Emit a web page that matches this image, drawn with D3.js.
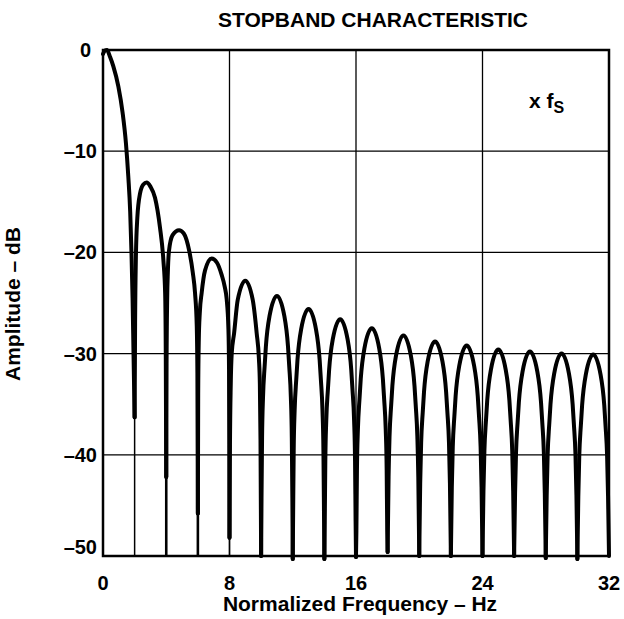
<!DOCTYPE html>
<html><head><meta charset="utf-8">
<script src="https://cdn.jsdelivr.net/npm/d3@7"></script>
<style>
html,body{margin:0;padding:0;background:#fff;}
svg{display:block;font-family:"Liberation Sans",Arial,Helvetica,sans-serif;font-weight:bold;}
</style></head>
<body>
<script>
// ---- data ----
const titleText = "STOPBAND CHARACTERISTIC";
const xTitle = "Normalized Frequency – Hz";
const yTitle = "Amplitude – dB";
const xTicks = [0, 8, 16, 24, 32];
const xTickLabels = ["0", "8", "16", "24", "32"];
const yTicks = [0, -10, -20, -30, -40, -50];
const yTickLabels = ["0", "–10", "–20", "–30", "–40", "–50"];
const xGrid = [8, 16, 24];
const yGrid = [-10, -20, -30, -40];

const lobe0 = [[0,-0.4],[0.12,-0.05],[0.25,0],[0.45,-0.7],[0.65,-1.6],[0.97,-3.6],[1.24,-6.2],[1.45,-9.2],[1.6,-12.5],[1.72,-16],[1.8,-20],[1.87,-24.5],[1.93,-30],[2,-36.3]];
const lobe1 = [[2,-36.3],[2.03,-27],[2.08,-20.5],[2.17,-16.6],[2.34,-14.2],[2.55,-13.3],[2.76,-13.1],[3.0,-13.5],[3.29,-14.6],[3.6,-17.5],[3.82,-20.8],[3.93,-24],[3.97,-30],[4,-42.2]];
const lobe2 = [[4,-42.2],[4.02,-31],[4.06,-24.5],[4.1,-22],[4.17,-19.9],[4.4,-18.3],[4.81,-17.8],[5.1,-18.1],[5.46,-19.9],[5.68,-22],[5.82,-24],[5.93,-27.3],[5.97,-32],[6,-45.8]];
const lobe3 = [[6,-45.8],[6.02,-34],[6.06,-28.5],[6.12,-26],[6.24,-24],[6.45,-21.8],[6.87,-20.6],[7.2,-21.0],[7.5,-22.2],[7.7,-23.4],[7.82,-24.6],[7.93,-27.5],[7.97,-31.5],[8,-48.2]];
const lobe4 = [[8,-48.2],[8.03,-39],[8.08,-33],[8.14,-30],[8.29,-28],[8.52,-24.7],[9,-22.8],[9.47,-24.7],[9.72,-28],[9.86,-30.5],[9.92,-33],[9.96,-38.5],[10,-50]];
const lobe5 = [[10,-50],[10.025,-44.3],[10.06,-38.3],[10.12,-34.3],[10.22,-31.3],[10.3,-29.3],[10.53,-26.3],[11,-24.3],[11.47,-26.3],[11.7,-29.3],[11.78,-31.3],[11.88,-34.3],[11.94,-38.3],[11.975,-44.3],[12,-50.3]];
const lobe6 = [[12,-50.3],[12.025,-45.6],[12.06,-39.6],[12.12,-35.6],[12.22,-32.6],[12.3,-30.6],[12.53,-27.6],[13,-25.6],[13.47,-27.6],[13.7,-30.6],[13.78,-32.6],[13.88,-35.6],[13.94,-39.6],[13.975,-45.6],[14,-50.3]];
const lobe7 = [[14,-50.3],[14.025,-46.6],[14.06,-40.6],[14.12,-36.6],[14.22,-33.6],[14.3,-31.6],[14.53,-28.6],[15,-26.6],[15.47,-28.6],[15.7,-31.6],[15.78,-33.6],[15.88,-36.6],[15.94,-40.6],[15.975,-46.6],[16,-50.1]];
const lobe8 = [[16,-50.1],[16.025,-47.5],[16.06,-41.5],[16.12,-37.5],[16.22,-34.5],[16.3,-32.5],[16.53,-29.5],[17,-27.5],[17.47,-29.5],[17.7,-32.5],[17.78,-34.5],[17.88,-37.5],[17.94,-41.5],[17.975,-47.5],[18,-49.6]];
const lobe9 = [[18,-49.6],[18.06,-42.2],[18.12,-38.2],[18.22,-35.2],[18.3,-33.2],[18.53,-30.2],[19,-28.2],[19.47,-30.2],[19.7,-33.2],[19.78,-35.2],[19.88,-38.2],[19.94,-42.2],[20,-50]];
const lobe10 = [[20,-50],[20.06,-42.8],[20.12,-38.8],[20.22,-35.8],[20.3,-33.8],[20.53,-30.8],[21,-28.8],[21.47,-30.8],[21.7,-33.8],[21.78,-35.8],[21.88,-38.8],[21.94,-42.8],[22,-50]];
const lobe11 = [[22,-50],[22.06,-43.2],[22.12,-39.2],[22.22,-36.2],[22.3,-34.2],[22.53,-31.2],[23,-29.2],[23.47,-31.2],[23.7,-34.2],[23.78,-36.2],[23.88,-39.2],[23.94,-43.2],[24,-50]];
const lobe12 = [[24,-50],[24.06,-43.6],[24.12,-39.6],[24.22,-36.6],[24.3,-34.6],[24.53,-31.6],[25,-29.6],[25.47,-31.6],[25.7,-34.6],[25.78,-36.6],[25.88,-39.6],[25.94,-43.6],[26,-50]];
const lobe13 = [[26,-50],[26.06,-43.8],[26.12,-39.8],[26.22,-36.8],[26.3,-34.8],[26.53,-31.8],[27,-29.8],[27.47,-31.8],[27.7,-34.8],[27.78,-36.8],[27.88,-39.8],[27.94,-43.8],[28,-50.2]];
const lobe14 = [[28,-50.2],[28.06,-44],[28.12,-40],[28.22,-37],[28.3,-35],[28.53,-32],[29,-30],[29.47,-32],[29.7,-35],[29.78,-37],[29.88,-40],[29.94,-44],[30,-50.3]];
const lobe15 = [[30,-50.3],[30.06,-44.1],[30.12,-40.1],[30.22,-37.1],[30.3,-35.1],[30.53,-32.1],[31,-30.1],[31.47,-32.1],[31.7,-35.1],[31.78,-37.1],[31.88,-40.1],[31.94,-44.1],[32,-50]];
const lobes = [lobe0,lobe1,lobe2,lobe3,lobe4,lobe5,lobe6,lobe7,lobe8,lobe9,lobe10,lobe11,lobe12,lobe13,lobe14,lobe15];

// thin continuation of the deepest early nulls down to the floor
const stemX = [2, 4, 6, 8];
const stemTop = [-36.3, -42.2, -45.8, -48.2];
const floorDb = -50;

// ---- drawing ----
const W = 624, H = 619;
const svg = d3.select("body").append("svg").attr("width", W).attr("height", H);
const x = d3.scaleLinear().domain([0, 32]).range([103, 609]);
const y = d3.scaleLinear().domain([-50, 0]).range([556, 50]);

// grid
svg.append("g").selectAll("line").data(xGrid).join("line")
  .attr("x1", d => x(d)).attr("x2", d => x(d))
  .attr("y1", y(0)).attr("y2", y(-50))
  .attr("stroke", "#000").attr("stroke-width", 1.3);
svg.append("g").selectAll("line").data(yGrid).join("line")
  .attr("y1", d => y(d)).attr("y2", d => y(d))
  .attr("x1", x(0)).attr("x2", x(32))
  .attr("stroke", "#000").attr("stroke-width", 1.3);

// stems (middle two look heavier in the reference)
svg.append("g").selectAll("line").data(stemX).join("line")
  .attr("x1", d => x(d)).attr("x2", d => x(d))
  .attr("y1", (d, i) => y(stemTop[i])).attr("y2", y(floorDb))
  .attr("stroke", "#000").attr("stroke-width", (d, i) => (i === 1 || i === 2) ? 2.6 : 1.5);

// curve
const line = d3.line().x(d => x(d[0])).y(d => y(d[1])).curve(d3.curveMonotoneX);
svg.append("g").selectAll("path").data(lobes).join("path")
  .attr("d", line)
  .attr("fill", "none").attr("stroke", "#000").attr("stroke-width", 4)
  .attr("stroke-linejoin", "round").attr("stroke-linecap", "round");

// frame
svg.append("rect")
  .attr("x", x(0)).attr("y", y(0))
  .attr("width", x(32) - x(0)).attr("height", y(-50) - y(0))
  .attr("fill", "none").attr("stroke", "#000").attr("stroke-width", 2.5);

// tick labels
svg.append("g").selectAll("text").data(xTicks).join("text")
  .attr("x", d => x(d)).attr("y", 590)
  .attr("text-anchor", "middle").attr("font-size", 20)
  .text((d, i) => xTickLabels[i]);
svg.append("g").selectAll("text").data(yTicks).join("text")
  .attr("x", d => d === 0 ? 91 : 97)
  .attr("y", d => d === -50 ? y(d) - 2 : y(d) + 7)
  .attr("text-anchor", "end").attr("font-size", 20)
  .text((d, i) => yTickLabels[i]);

// titles
svg.append("text").attr("x", 373).attr("y", 27).attr("text-anchor", "middle")
  .attr("font-size", 21).text(titleText);
svg.append("text").attr("x", 360).attr("y", 611).attr("text-anchor", "middle")
  .attr("font-size", 21).text(xTitle);
svg.append("text").attr("transform", "translate(20,304) rotate(-90)")
  .attr("text-anchor", "middle").attr("font-size", 21).text(yTitle);

// x fs annotation
const ann = svg.append("text").attr("x", 529).attr("y", 108).attr("font-size", 21);
ann.append("tspan").text("x f");
ann.append("tspan").attr("font-size", 16).attr("dy", 5).text("S");
</script>
</body></html>
